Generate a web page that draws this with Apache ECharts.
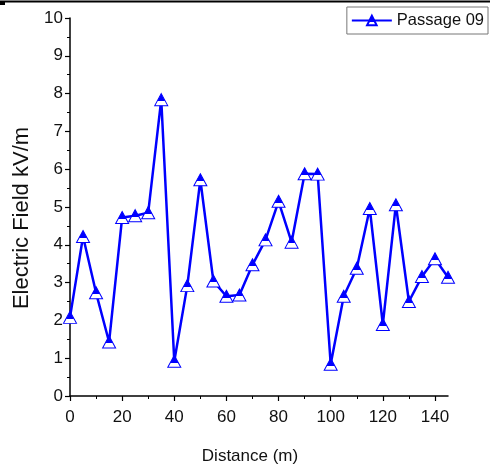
<!DOCTYPE html>
<html>
<head>
<meta charset="utf-8">
<script src="https://cdn.jsdelivr.net/npm/echarts@6/dist/echarts.min.js"></script>
<style>html,body{margin:0;padding:0;background:#fff}#c{width:490px;height:470px}</style>
</head>
<body>
<div id="c"></div>
<script>
var distances = [0,5,10,15,20,25,30,35,40,45,50,55,60,65,70,75,80,85,90,95,100,105,110,115,120,125,130,135,140,145];
var passage09 = [2.08,4.22,2.73,1.43,4.72,4.77,4.85,7.84,0.92,2.92,5.72,3.04,2.64,2.67,3.47,4.13,5.15,4.07,5.88,5.87,0.84,2.64,3.38,4.96,1.89,5.06,2.50,3.16,3.63,3.14];
var xTicks = [0,20,40,60,80,100,120,140];
var seriesName = 'Passage 09';

var chart = echarts.init(document.getElementById('c'));
var font = '"Liberation Sans", Arial, sans-serif';
var markerFill = new echarts.graphic.LinearGradient(0,0,0,1,[
  {offset:0,color:'#0000ff'},{offset:0.6,color:'#0000ff'},
  {offset:0.6,color:'#ffffff'},{offset:1,color:'#ffffff'}]);
chart.setOption({
  animation:false,
  graphic:[
    {type:'line',shape:{x1:0,y1:1.5,x2:490,y2:1.5},style:{stroke:'#000',lineWidth:2}},
    {type:'rect',shape:{x:0,y:1,width:5,height:4},style:{fill:'#000'}}
  ],
  grid:{left:70,right:42,top:18,bottom:74,outerBoundsMode:'none',containLabel:false},
  legend:{
    top:7,right:2,
    data:[seriesName],
    borderColor:'#777',borderWidth:1,padding:[5,4,5,4],
    itemWidth:40,itemHeight:12,itemGap:4,
    textStyle:{fontFamily:font,fontSize:16.5,color:'#111'}
  },
  xAxis:{
    type:'value',min:0,max:145,interval:20,
    name:'Distance (m)',nameLocation:'middle',nameGap:52,
    nameTextStyle:{fontFamily:font,fontSize:17,color:'#111',padding:[0,18,0,0]},
    axisLine:{show:true,lineStyle:{color:'#000',width:1.5}},
    axisTick:{show:true,length:5,lineStyle:{color:'#000',width:1.2},customValues:xTicks},
    minorTick:{show:true,splitNumber:2,length:3,lineStyle:{color:'#000',width:1}},
    axisLabel:{fontFamily:font,fontSize:17,color:'#111',margin:13,customValues:xTicks},
    splitLine:{show:false}
  },
  yAxis:{
    type:'value',min:0,max:10,interval:1,
    name:'Electric Field kV/m',nameLocation:'middle',nameGap:34,
    nameTextStyle:{fontFamily:font,fontSize:22,color:'#111',padding:[0,22,0,0]},
    axisLine:{show:true,lineStyle:{color:'#000',width:1.5}},
    axisTick:{show:true,length:5,lineStyle:{color:'#000',width:1.2}},
    minorTick:{show:true,splitNumber:2,length:3,lineStyle:{color:'#000',width:1}},
    axisLabel:{fontFamily:font,fontSize:17,color:'#111',margin:7},
    splitLine:{show:false}
  },
  series:[{
    name:seriesName,type:'line',
    data:distances.map(function(d,i){return [d,passage09[i]];}),
    symbol:'triangle',symbolSize:[13,12],
    lineStyle:{color:'#0000ff',width:2.5},
    itemStyle:{color:markerFill,borderColor:'#0000ff',borderWidth:1}
  }]
});
</script>
</body>
</html>
